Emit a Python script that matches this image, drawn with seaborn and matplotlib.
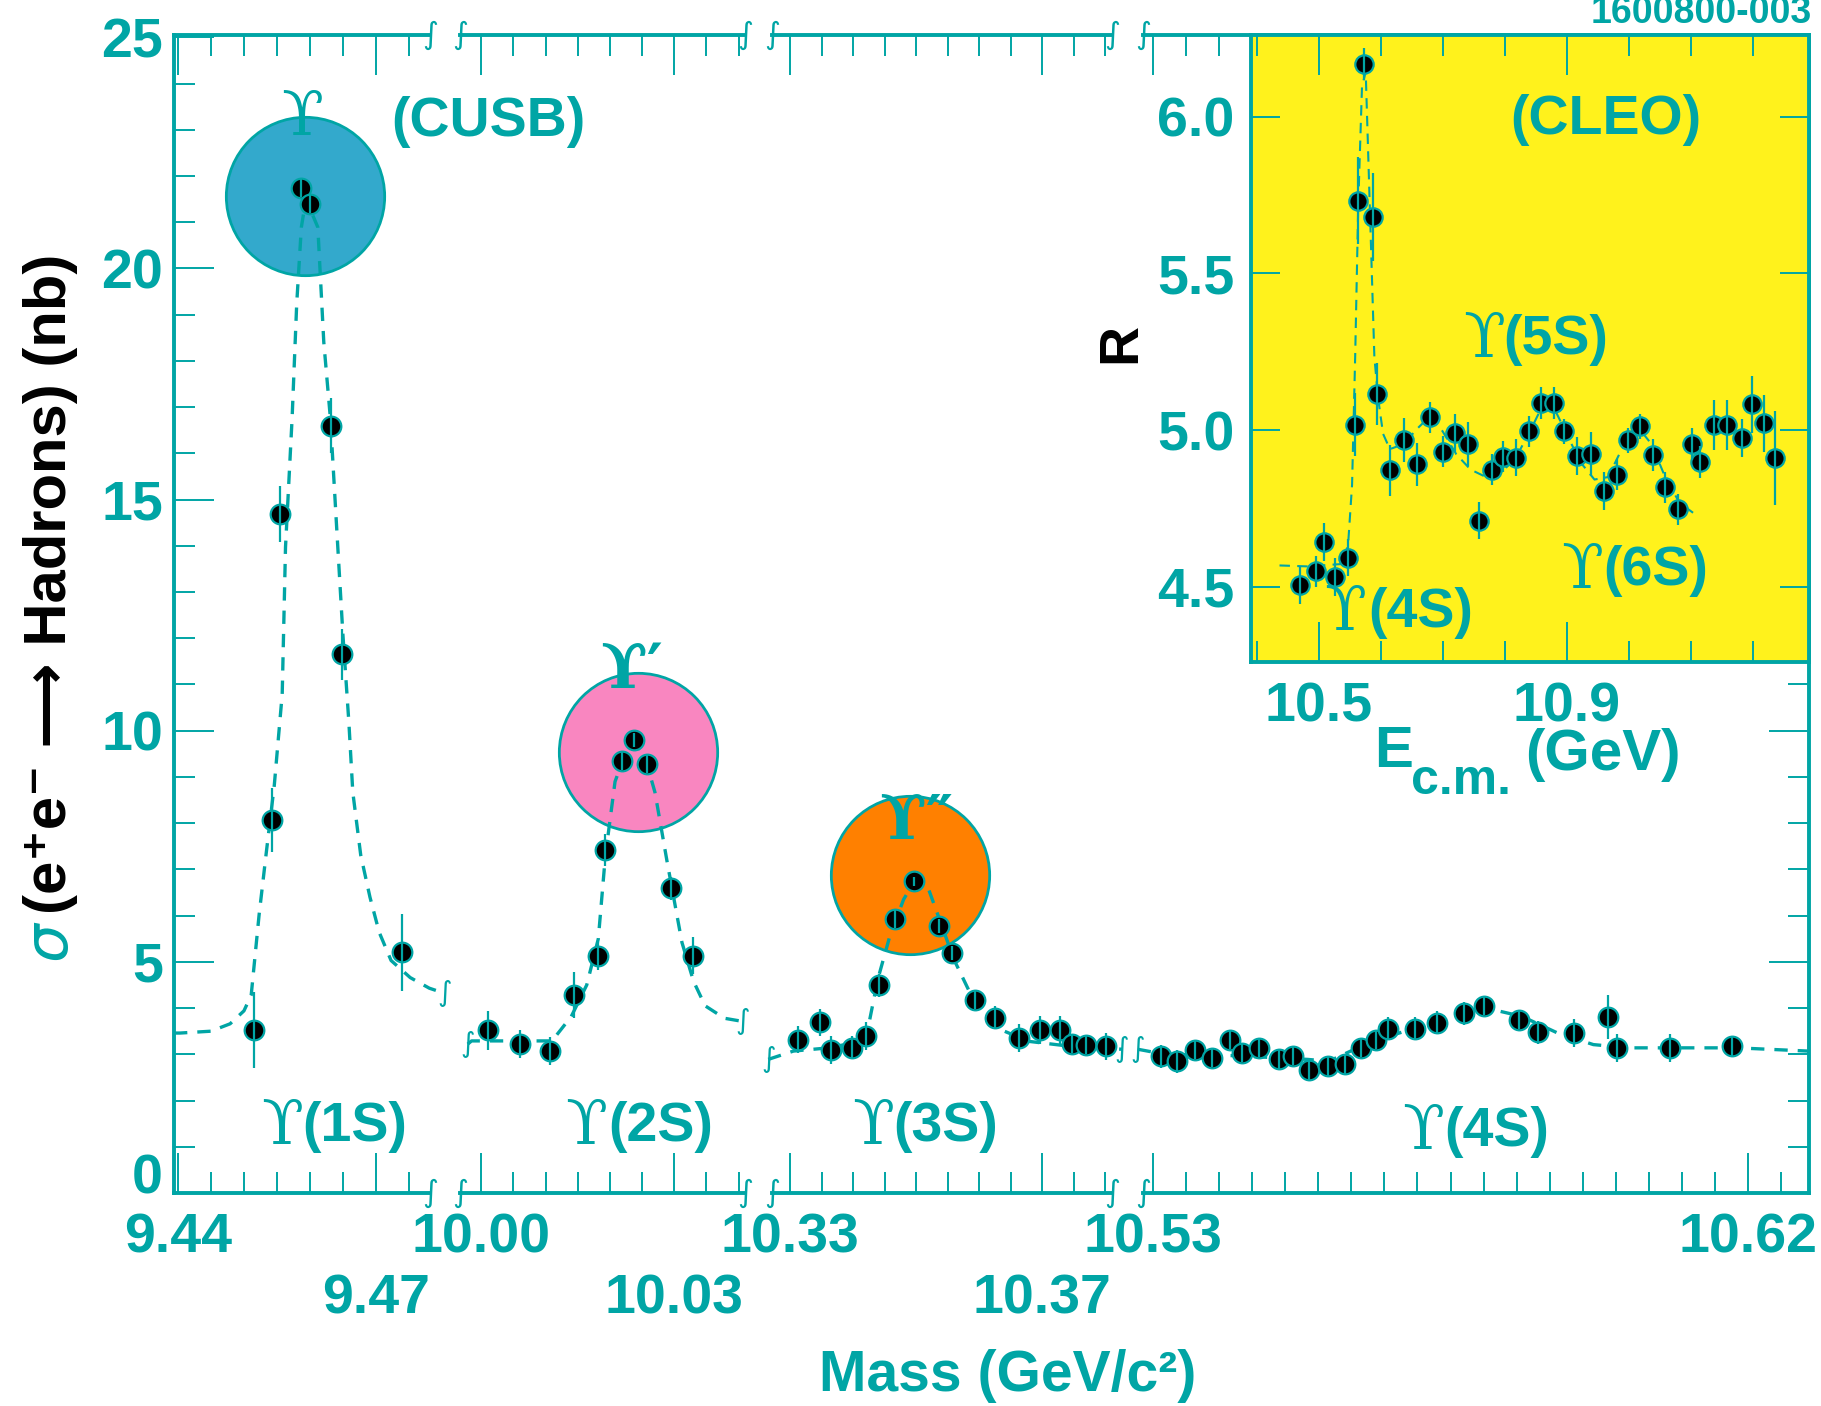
import matplotlib
matplotlib.use('Agg')
import matplotlib.pyplot as plt
from matplotlib.ticker import FixedLocator, MultipleLocator
import seaborn as sns

# ---------------- data ----------------
# main panel, four mass windows (GeV), cross section (nb)
m1_x = [9.4516, 9.4542, 9.4554, 9.4586, 9.4600, 9.4632, 9.4649, 9.4739]
m1_y = [3.53, 8.07, 14.69, 21.74, 21.39, 16.60, 11.65, 5.21]
m1_e = [0.82, 0.70, 0.60, 0.20, 0.20, 0.60, 0.55, 0.83]
c1_x = [9.4394, 9.4403, 9.4450, 9.4479, 9.4500, 9.4511, 9.4523, 9.4534, 9.4546,
        9.4558, 9.4563, 9.4573, 9.4580, 9.4587, 9.4594, 9.4612, 9.4621, 9.4631,
        9.4641, 9.4650, 9.4659, 9.4665, 9.4677, 9.4691, 9.4705, 9.4723, 9.4752,
        9.4781, 9.4804]
c1_y = [3.46, 3.46, 3.50, 3.66, 3.94, 4.28, 6.02, 7.38, 8.82,
        10.79, 13.97, 16.76, 19.24, 20.89, 21.50, 20.89, 18.41, 16.76,
        14.28, 12.08, 10.19, 8.67, 7.31, 6.40, 5.64, 5.03, 4.66,
        4.43, 4.32]

m2_x = [10.0011, 10.0061, 10.0107, 10.0144, 10.0182, 10.0193, 10.0219, 10.0238,
        10.0258, 10.0295, 10.0329]
m2_y = [3.52, 3.23, 3.07, 4.28, 5.13, 7.42, 9.35, 9.79, 9.29, 6.59, 5.13]
m2_e = [0.42, 0.30, 0.30, 0.50, 0.30, 0.35, 0.20, 0.15, 0.20, 0.25, 0.40]
c2_x = [9.9979, 9.9985, 10.0110, 10.0140, 10.0164, 10.0182, 10.0193, 10.0208,
        10.0226, 10.0238, 10.0253, 10.0270, 10.0289, 10.0312, 10.0330, 10.0348,
        10.0378, 10.0407]
c2_y = [3.22, 3.29, 3.29, 3.82, 4.50, 5.50, 7.30, 8.90,
        9.58, 9.73, 9.50, 8.67, 7.16, 5.42, 4.58, 4.05,
        3.78, 3.71]

m3_x = [10.3313, 10.3348, 10.3365, 10.3398, 10.3420, 10.3441, 10.3466, 10.3497,
        10.3537, 10.3557, 10.3594, 10.3625, 10.3664, 10.3696, 10.3728, 10.3747,
        10.3770, 10.3801]
m3_y = [3.32, 3.69, 3.09, 3.14, 3.39, 4.49, 5.93, 6.74, 5.77, 5.19, 4.17, 3.79,
        3.35, 3.52, 3.52, 3.23, 3.21, 3.17]
m3_e = [0.30, 0.30, 0.30, 0.25, 0.30, 0.25, 0.20, 0.10, 0.15, 0.15, 0.20, 0.25,
        0.30, 0.30, 0.30, 0.20, 0.20, 0.30]
c3_x = [10.3265, 10.3305, 10.3361, 10.3401, 10.3424, 10.3439, 10.3458, 10.3480,
        10.3497, 10.3520, 10.3541, 10.3560, 10.3583, 10.3605, 10.3633, 10.3679,
        10.3747, 10.3827]
c3_y = [2.89, 3.07, 3.14, 3.25, 3.60, 4.62, 5.55, 6.35,
        6.74, 6.56, 5.77, 5.05, 4.40, 3.89, 3.54, 3.28,
        3.17, 3.11]

m4_x = [10.5312, 10.5336, 10.5364, 10.5389, 10.5417, 10.5434, 10.5461, 10.5491,
        10.5512, 10.5536, 10.5564, 10.5591, 10.5615, 10.5637, 10.5656, 10.5696,
        10.5729, 10.5770, 10.5801, 10.5853, 10.5882, 10.5936, 10.5988, 10.6001,
        10.6082, 10.6175]
m4_y = [2.96, 2.85, 3.09, 2.92, 3.32, 3.03, 3.14, 2.89, 2.97, 2.67, 2.74, 2.78,
        3.14, 3.32, 3.55, 3.55, 3.68, 3.89, 4.05, 3.74, 3.48, 3.46, 3.81, 3.13,
        3.13, 3.17]
m4_e = [0.25, 0.25, 0.20, 0.20, 0.20, 0.20, 0.20, 0.20, 0.20, 0.25, 0.20, 0.20,
        0.20, 0.20, 0.25, 0.25, 0.25, 0.25, 0.20, 0.20, 0.25, 0.30, 0.48, 0.30,
        0.30, 0.20]
c4_x = [10.5277, 10.5318, 10.5426, 10.5534, 10.5566, 10.5599, 10.5642, 10.5696,
        10.5750, 10.5804, 10.5858, 10.5912, 10.5966, 10.6020, 10.6183, 10.6291]
c4_y = [3.11, 3.00, 2.97, 2.89, 2.85, 3.07, 3.32, 3.57,
        3.86, 4.00, 3.82, 3.46, 3.21, 3.14, 3.14, 3.07]

# resonance discs (centre in data units)
disc_x = [9.4593, 10.0243, 10.3490]
disc_y = [21.56, 9.55, 6.87]
disc_col = ['#33A9CC', '#F986C0', '#FF8000']

# inset (CLEO): E_cm (GeV) vs R
r_x = [10.470, 10.496, 10.509, 10.526, 10.548, 10.559, 10.564, 10.573, 10.587,
       10.595, 10.615, 10.637, 10.659, 10.680, 10.700, 10.720, 10.741, 10.759,
       10.780, 10.798, 10.819, 10.839, 10.859, 10.879, 10.896, 10.917, 10.939,
       10.961, 10.981, 10.999, 11.019, 11.039, 11.058, 11.080, 11.102, 11.115,
       11.137, 11.159, 11.183, 11.199, 11.219, 11.236]
r_y = [4.505, 4.549, 4.643, 4.532, 4.593, 5.017, 5.732, 6.168, 5.680,
       5.115, 4.871, 4.968, 4.890, 5.040, 4.931, 4.991, 4.955, 4.711,
       4.874, 4.915, 4.912, 4.996, 5.086, 5.086, 4.996, 4.918, 4.923,
       4.806, 4.858, 4.968, 5.012, 4.920, 4.817, 4.747, 4.955, 4.898,
       5.017, 5.017, 4.975, 5.082, 5.021, 4.912]
r_e = [0.06, 0.05, 0.06, 0.06, 0.06, 0.10, 0.14, 0.05, 0.14,
       0.10, 0.08, 0.07, 0.07, 0.05, 0.05, 0.06, 0.07, 0.06,
       0.05, 0.05, 0.06, 0.05, 0.05, 0.05, 0.04, 0.06, 0.07,
       0.06, 0.05, 0.04, 0.04, 0.05, 0.05, 0.05, 0.05, 0.05,
       0.08, 0.08, 0.06, 0.09, 0.09, 0.15]
rc_x = [10.437, 10.481, 10.541, 10.548, 10.554, 10.559, 10.564, 10.570, 10.576,
        10.580, 10.585, 10.590, 10.596, 10.604, 10.615, 10.637, 10.659, 10.680,
        10.700, 10.722, 10.745, 10.770, 10.796, 10.819, 10.841, 10.861, 10.880,
        10.900, 10.922, 10.945, 10.967, 10.989, 11.014, 11.037, 11.059, 11.082,
        11.104]
rc_y = [4.568, 4.565, 4.573, 4.646, 4.825, 5.232, 5.720, 6.094, 6.143,
        5.883, 5.557, 5.232, 5.102, 4.988, 4.939, 4.955, 5.004, 5.045,
        4.996, 4.923, 4.874, 4.850, 4.866, 4.915, 4.996, 5.077, 5.069,
        4.988, 4.898, 4.842, 4.850, 4.939, 5.012, 4.955, 4.850, 4.768,
        4.736]

seg_lim = [(9.4394, 9.4782), (9.9967, 10.0410), (10.3271, 10.3811), (10.5285, 10.6292)]
seg_major = [[9.44, 9.47], [10.00, 10.03], [10.33, 10.37], [10.53, 10.62]]
seg_labels = [['9.44', '9.47'], ['10.00', '10.03'], ['10.33', '10.37'], ['10.53', '10.62']]
seg_lower = [True, True, True, False]   # second label sits on a lower row
y_major = [0, 5, 10, 15, 20, 25]

# ---------------- style ----------------
TEAL = '#00A5A5'
YELLOW = '#FFF21C'
sns.set_theme(style='ticks')
plt.rcParams['font.family'] = ['Liberation Sans', 'DejaVu Sans']
plt.rcParams['font.weight'] = 'bold'

W, H = 1821, 1406
fig = plt.figure(figsize=(W / 100, H / 100), dpi=100)


def rect(x0, x1, y0, y1):
    return [x0 / W, 1 - y1 / H, (x1 - x0) / W, (y1 - y0) / H]


def ptext(x, y, s, **kw):
    return fig.text(x / W, 1 - y / H, s, **kw)


seg_px = [(174, 430), (460, 745), (772, 1112), (1143, 1809)]
pts = [(m1_x, m1_y, m1_e), (m2_x, m2_y, m2_e), (m3_x, m3_y, m3_e), (m4_x, m4_y, m4_e)]
curves = [(c1_x, c1_y), (c2_x, c2_y), (c3_x, c3_y), (c4_x, c4_y)]

axes = []
for i, (x0, x1) in enumerate(seg_px):
    ax = fig.add_axes(rect(x0, x1, 35, 1193))
    ax.set_facecolor('none')
    axes.append(ax)

    if i < 3:
        ax.scatter([disc_x[i]], [disc_y[i]], s=13000, color=disc_col[i],
                   edgecolor=TEAL, linewidth=2, zorder=1, clip_on=False)

    cx, cy = curves[i]
    sns.lineplot(x=cx, y=cy, ax=ax, sort=False, estimator=None, color=TEAL,
                 linewidth=2.4, linestyle='--', zorder=2, clip_on=False)
    ax.lines[-1].set_dashes((4, 3))

    px, py, pe = pts[i]
    sns.scatterplot(x=px, y=py, ax=ax, s=200, color='black', edgecolor=TEAL,
                    linewidth=1.6, zorder=3, clip_on=False)
    ax.errorbar(px, py, yerr=pe, fmt='none', ecolor=TEAL, elinewidth=1.6,
                capsize=0, zorder=4)

    # curve break marks
    if i > 0:
        ax.text(cx[0], cy[0], '\u222b', color=TEAL, fontsize=20, ha='center',
                va='center', family='DejaVu Sans', weight='normal', zorder=5)
    if i < 3:
        ax.text(cx[-1], cy[-1], '\u222b', color=TEAL, fontsize=20, ha='center',
                va='center', family='DejaVu Sans', weight='normal', zorder=5)

    ax.set_xlim(*seg_lim[i])
    ax.set_ylim(0, 25.05)
    ax.xaxis.set_major_locator(FixedLocator(seg_major[i]))
    ax.xaxis.set_minor_locator(MultipleLocator(0.005))
    ax.set_xticklabels(seg_labels[i], fontsize=40, color=TEAL, weight='bold')
    ax.tick_params(axis='x', which='both', direction='in', top=True, bottom=True,
                   color=TEAL, width=1.4)
    ax.tick_params(axis='x', which='major', length=29, pad=14)
    ax.tick_params(axis='x', which='minor', length=15)

    ax.yaxis.set_major_locator(FixedLocator(y_major))
    ax.yaxis.set_minor_locator(MultipleLocator(1))
    ax.tick_params(axis='y', which='both', direction='in', color=TEAL, width=1.4,
                   left=(i == 0), right=(i == 3), labelleft=(i == 0),
                   labelright=False, labelsize=40, labelcolor=TEAL, pad=8)
    ax.tick_params(axis='y', which='major', length=29)
    ax.tick_params(axis='y', which='minor', length=15)
    for lab in ax.get_yticklabels():
        lab.set_fontweight('bold')
    if i == 0:
        ax.yaxis.get_major_ticks()[0].label1.set_verticalalignment('baseline')
    if seg_lower[i]:
        ax.xaxis.get_major_ticks()[1].set_pad(58)

    for side in ['top', 'bottom', 'left', 'right']:
        ax.spines[side].set_color(TEAL)
        ax.spines[side].set_linewidth(2.8)
    ax.spines['left'].set_visible(i == 0)
    ax.spines['right'].set_visible(i == 3)
    ax.set_xlabel('')
    ax.set_ylabel('')

    # axis break marks on top and bottom spines
    ends = []
    if i > 0:
        ends.append(0)
    if i < 3:
        ends.append(1)
    for ex in ends:
        for ey in (0, 1):
            ax.text(ex, ey, '\u222b', transform=ax.transAxes, color=TEAL,
                    fontsize=22, ha='center', va='center', family='DejaVu Sans',
                    weight='normal', clip_on=False, zorder=6)

# ---------------- inset ----------------
axi = fig.add_axes(rect(1251, 1809, 35, 662))
axi.set_facecolor(YELLOW)
sns.lineplot(x=rc_x, y=rc_y, ax=axi, sort=False, estimator=None, color=TEAL,
             linewidth=1.5, linestyle='--', zorder=2)
axi.lines[-1].set_dashes((5, 3.5))
sns.scatterplot(x=r_x, y=r_y, ax=axi, s=175, color='black', edgecolor=TEAL,
                linewidth=1.6, zorder=3)
axi.errorbar(r_x, r_y, yerr=r_e, fmt='none', ecolor=TEAL, elinewidth=1.6,
             capsize=0, zorder=4)
axi.set_xlim(10.391, 11.291)
axi.set_ylim(4.26, 6.26)
axi.xaxis.set_major_locator(FixedLocator([10.5, 10.9]))
axi.xaxis.set_minor_locator(MultipleLocator(0.1))
axi.set_xticklabels(['10.5', '10.9'], fontsize=40, color=TEAL, weight='bold')
axi.yaxis.set_major_locator(FixedLocator([4.5, 5.0, 5.5, 6.0]))
axi.set_yticklabels(['4.5', '5.0', '5.5', '6.0'], fontsize=40, color=TEAL,
                    weight='bold')
axi.tick_params(axis='both', which='both', direction='in', color=TEAL, width=1.4,
                top=True, right=True)
axi.tick_params(axis='x', which='major', length=29, pad=14)
axi.tick_params(axis='x', which='minor', length=15)
axi.tick_params(axis='y', which='major', length=21, pad=12)
for side in ['top', 'bottom', 'left', 'right']:
    axi.spines[side].set_color(TEAL)
    axi.spines[side].set_linewidth(2.8)
axi.set_xlabel('')
axi.set_ylabel('')

# ---------------- texts ----------------
def ups(xu, xl, y, lab, size=40):
    ptext(xu, y, '\u03d2', ha='center', va='center', family='DejaVu Serif',
          weight='normal', fontsize=size + 4, color=TEAL)
    ptext(xl, y, lab, ha='left', va='center', fontsize=size, color=TEAL,
          weight='bold')


ups(282, 302, 1127, '(1S)')
ups(586, 608, 1127, '(2S)')
ups(873, 893, 1127, '(3S)')
ups(1423, 1444, 1132, '(4S)')
ups(1484, 1503, 340, '(5S)')
ups(1582, 1603, 571, '(6S)')
ups(1345, 1368, 613, '(4S)')

ptext(302, 118, '\u03d2', ha='center', va='center', family='DejaVu Serif',
      weight='normal', fontsize=44, color=TEAL, zorder=5)
ptext(632, 671, '\u03d2\u2032', ha='center', va='center', family='DejaVu Serif',
      weight='bold', fontsize=44, color=TEAL, zorder=5)
ptext(916, 822, '\u03d2\u2033', ha='center', va='center', family='DejaVu Serif',
      weight='bold', fontsize=44, color=TEAL, zorder=5)

ptext(488, 122, '(CUSB)', ha='center', va='center', fontsize=40, color=TEAL)
ptext(1606, 120, '(CLEO)', ha='center', va='center', fontsize=40, color=TEAL)
ptext(1701, 31, '1600800-003', ha='center', va='bottom', fontsize=27, color=TEAL)

ptext(1008, 1376, 'Mass (GeV/c\u00b2)', ha='center', va='center', fontsize=41,
      color=TEAL)
ptext(1394, 752, 'E', ha='center', va='center', fontsize=42, color=TEAL)
ptext(1461, 781, 'c.m.', ha='center', va='center', fontsize=36, color=TEAL)
ptext(1603, 755, '(GeV)', ha='center', va='center', fontsize=42, color=TEAL)
ptext(1121, 343, 'R', ha='center', va='center', fontsize=40, color='black',
      rotation=90)

ptext(50, 942, '\u03c3', ha='center', va='center', fontsize=44, color=TEAL,
      style='italic', weight='normal', rotation=90, family='DejaVu Sans')
ptext(50, 914, '(e\u207ae\u207b \u27f6 Hadrons) (nb)', ha='left', va='center',
      fontsize=43, color='black', rotation=90, rotation_mode='anchor')

fig.savefig('out.png', dpi=100)
